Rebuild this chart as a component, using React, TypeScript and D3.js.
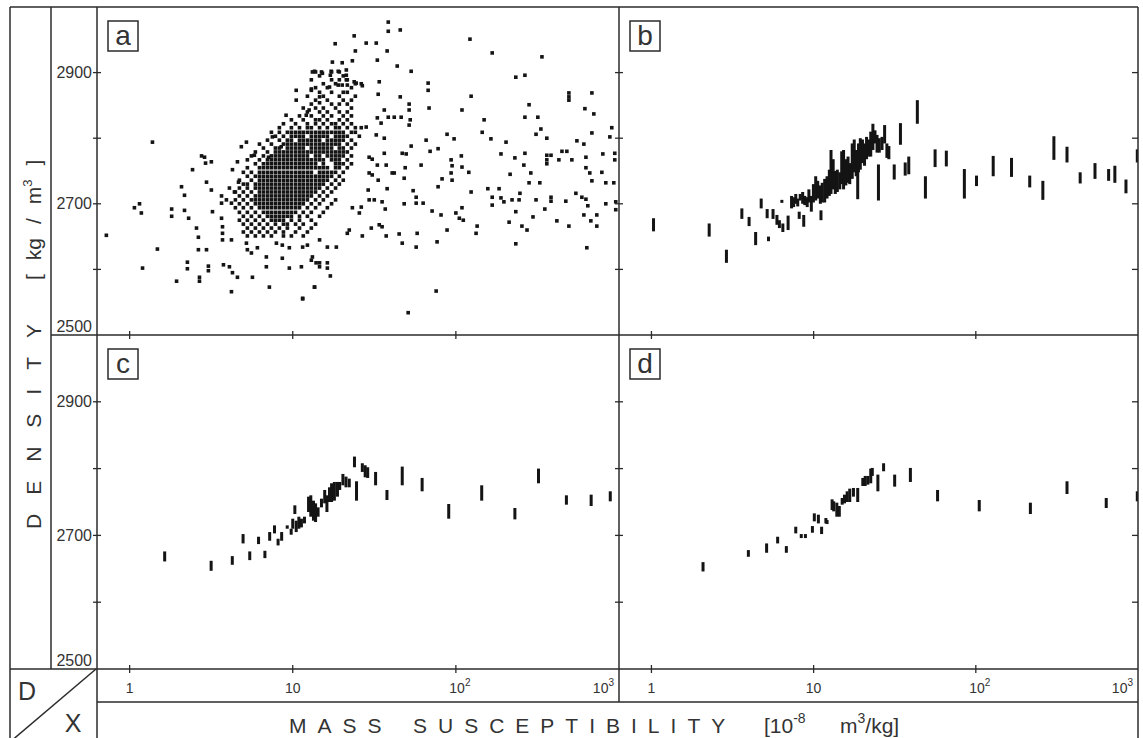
import React from 'react';
import * as d3 from 'd3';

// ---------- DATA ----------
const densityTicks = [2600, 2700, 2800, 2900];
const densityLabels = [2900, 2700, 2500];
const suscTicks = [1, 10, 100];
const suscLabelValues = [1, 10, 100, 1000];
const suscLabelBase = ['1', '10', '10', '10'];
const suscLabelSup = ['', '', '2', '3'];
const panelLetters = ['a', 'b', 'c', 'd'];

// panel a: scattered samples [susceptibility, density]
const panelASparse: number[][] = [
  [0.72,2652],[1.38,2794],[1.07,2694],[1.15,2700],[1.18,2686],[1.2,2602],[1.48,2631],[1.81,2692],[1.81,2681],[1.94,2582],
  [2.17,2713],[2.17,2690],[2.3,2678],[2.43,2752],[2.26,2611],[2.26,2601],[2.57,2663],[2.64,2649],[2.64,2630],[2.68,2588],
  [2.68,2582],[2.88,2771],[3.17,2764],[2.96,2630],[3.04,2605],[3.04,2598],[3.22,2688],[3.66,2701],[3.71,2655],[3.71,2645],
  [3.76,2607],[4.09,2604],[4.21,2566],[4.27,2595],[4.58,2588],[4.58,2764],[4.84,2787],[5.2,2794],[7.5,2802],[5.82,2774],
  [7.1,2771],[8.5,2787],[9.1,2835],[10.5,2858],[10.5,2873],[13.0,2873],[13.2,2901],[15.0,2901],[12.1,2835],[12.6,2843],
  [14.6,2863],[14.6,2854],[4.27,2752],[4.65,2733],[2.08,2726],[2.96,2733],[3.17,2721],[3.66,2712],[2.76,2773],[2.92,2762],
  [4.09,2724],[4.39,2718],[3.92,2706],[4.21,2701],[3.66,2678],[3.71,2665],[4.21,2645],[5.2,2640],[5.27,2630],[5.58,2625],
  [6.07,2633],[6.89,2619],[6.89,2604],[5.66,2588],[7.19,2573],[8.63,2617],[9.53,2602],[11.5,2556],[13.0,2614],[13.9,2610],
  [14.6,2604],[16.3,2602],[13.6,2573],[7.94,2640],[8.63,2637],[9.53,2633],[11.3,2604],
  [38.5,2977],[38.5,2963],[45.6,2965],[23.8,2956],[18.2,2944],[28.2,2945],[32.5,2945],[24.2,2933],[37.9,2933],[17.5,2916],
  [20.1,2915],[23.2,2918],[33.0,2919],[43.7,2910],[53.2,2902],[122,2951],[167,2930],[337,2924],[233,2893],[265,2896],
  [67.6,2884],[67.6,2873],[124,2864],[45.6,2863],[493,2869],[493,2863],[493,2858],[682,2869],[281,2851],[68.5,2846],
  [109,2843],[618,2845],[701,2837],[51.7,2852],[51.7,2843],[265,2832],[318,2832],[149,2828],[145,2809],[903,2816],
  [879,2802],[682,2808],[332,2814],[310,2806],[88.3,2806],[97.5,2799],[65.7,2797],[77.8,2784],[164,2799],[203,2794],
  [552,2796],[609,2791],[361,2800],[53.2,2788],[69.5,2780],[189,2776],[230,2770],[265,2777],[108,2773],[361,2774],
  [361,2767],[361,2761],[383,2774],[447,2780],[479,2780],[514,2767],[627,2771],[796,2776],[942,2777],[942,2767],
  [93.5,2767],[94.8,2758],[61.2,2759],[48.9,2755],[261,2759],[428,2767],[288,2747],[215,2745],[93.5,2747],[109,2756],
  [120,2748],[627,2755],[662,2747],[682,2735],[785,2748],[40.7,2747],[82.3,2738],[94.8,2736],[48.2,2739],[281,2732],
  [327,2732],[830,2732],[929,2732],[77.8,2726],[157,2723],[184,2723],[124,2718],[54.7,2720],[57.1,2710],[167,2710],
  [189,2709],[197,2703],[221,2706],[244,2706],[247,2716],[383,2710],[383,2704],[472,2704],[544,2716],[592,2710],
  [627,2707],[644,2697],[830,2700],[955,2691],[955,2703],[310,2706],[167,2698],[57.1,2701],[63,2701],[48.2,2700],
  [71.5,2689],[81.1,2683],[100,2686],[105,2678],[111,2675],[109,2694],[233,2688],[351,2692],[297,2680],[416,2674],
  [493,2666],[609,2683],[672,2674],[731,2683],[731,2666],[212,2672],[254,2666],[273,2660],[135,2666],[133,2655],
  [88.3,2660],[57.9,2655],[76.7,2642],[46.9,2640],[57.1,2634],[233,2639],[635,2633],[75.7,2567],[51,2534],
  [13.6,2902],[15.2,2899],[17.2,2902],[19.0,2902],[21.3,2904],[21.3,2896],[24.5,2884],[26.3,2883],[26.7,2880],[33.9,2886],
  [33.4,2867],[36.4,2843],[38.5,2832],[41.9,2832],[46.2,2832],[52.5,2828],[33,2831],[34.8,2823],[51.7,2820],[26.3,2816],
  [28.2,2817],[32.5,2805],[36.4,2800],[46.9,2777],[49.6,2776],[36.4,2777],[29.4,2771],[30.7,2768],[33,2759],[37.4,2759],
  [41.9,2747],[29.4,2747],[30.7,2744],[33.4,2736],[37.9,2723],[29.4,2706],[31.6,2706],[35.3,2703],[36.9,2692],[29,2721],
  [26.3,2695],[23.2,2694],[25.6,2686],[33.9,2668],[35.3,2665],[30.3,2663],[22.2,2660],[21.6,2655],[26.7,2651],[37.4,2651],
  [44.9,2654],[18.5,2634],[16.3,2634],[14.6,2645],[12.3,2637],[11.5,2634],[13.2,2619],[14.6,2610],[16.3,2610],[17,2590],
  [13.6,2573],[11.5,2555],[13.0,2875],[16.8,2878],[17.0,2896],[17.3,2889],[19.0,2881],[20.1,2881],[21.3,2889],[21.6,2881],
  [23.8,2886],
];

// panel a: dense core, one row per density level: [density, susceptibilities...]
const panelACoreRows: number[][] = [
  [2901, 13.8,17.3,19.3],
  [2895, 14.6,20.4],
  [2889, 13.0,19.3,21.6],
  [2883, 15.4,18.3,24.2],
  [2877, 13.8,16.3,22.9],
  [2870, 14.6,17.3,20.4,21.6],
  [2864, 12.3,15.4,19.3,24.2],
  [2858, 13.8,16.3,20.4,22.9],
  [2852, 13.0,17.3,19.3,21.6],
  [2846, 11.6,13.8,15.4,18.3,22.9],
  [2840, 12.3,14.6,16.3,19.3,21.6],
  [2834, 11.0,13.0,15.4,17.3,20.4,22.9],
  [2828, 9.81,11.6,13.8,14.6,16.3,19.3,21.6],
  [2822, 8.77,10.4,12.3,13.8,15.4,17.3,18.3,20.4,22.9],
  [2816, 8.28,9.81,11.0,12.3,13.0,14.6,16.3,18.3,19.3,21.6,24.2],
  [2809, 7.4,8.28,9.27,9.81,10.4,11.0,11.6,12.3,13.0,13.8,14.6,15.4,16.3,17.3,18.3,19.3,20.4,22.9,24.2],
  [2803, 7.83,8.77,9.81,10.4,11.0,11.6,13.0,13.8,14.6,15.4,16.3,18.3,19.3,20.4,21.6,25.6],
  [2797, 7.0,8.28,9.27,9.81,11.0,11.6,12.3,13.0,13.8,14.6,16.3,17.3,18.3,19.3,20.4,22.9],
  [2791, 6.25,7.4,8.77,9.27,9.81,10.4,11.0,11.6,12.3,13.0,13.8,14.6,15.4,16.3,17.3,18.3,19.3,21.6,24.2],
  [2785, 6.61,7.83,8.28,9.27,9.81,10.4,11.0,11.6,13.0,13.8,14.6,15.4,16.3,17.3,19.3,20.4,22.9],
  [2779, 5.9,7.0,7.83,8.28,8.77,9.27,9.81,10.4,11.0,11.6,12.3,13.0,13.8,14.6,15.4,16.3,17.3,18.3,19.3,20.4,21.6],
  [2773, 5.58,6.61,7.4,7.83,8.28,8.77,9.27,9.81,10.4,11.0,11.6,12.3,13.8,14.6,16.3,17.3,18.3,19.3,20.4,22.9],
  [2767, 5.27,6.25,7.0,7.4,7.83,8.28,8.77,9.27,9.81,10.4,11.0,11.6,12.3,13.0,13.8,14.6,15.4,17.3,18.3,19.3,21.6],
  [2761, 5.9,6.61,7.0,7.4,7.83,8.28,8.77,9.27,9.81,10.4,11.0,11.6,12.3,13.0,13.8,15.4,18.3,19.3,20.4,22.9],
  [2755, 5.27,6.25,6.61,7.0,7.4,7.83,8.28,8.77,9.27,9.81,10.4,11.0,11.6,12.3,13.0,13.8,14.6,15.4,16.3,18.3,19.3,21.6],
  [2748, 4.98,5.58,6.25,6.61,7.0,7.4,7.83,8.28,8.77,9.27,9.81,10.4,11.0,11.6,12.3,13.0,14.6,15.4,16.3,17.3,18.3,20.4],
  [2742, 5.27,5.9,6.25,6.61,7.0,7.4,7.83,8.28,8.77,9.27,9.81,10.4,11.0,11.6,12.3,13.0,13.8,14.6,15.4,16.3,17.3,19.3],
  [2736, 4.71,5.58,6.25,6.61,7.0,7.4,7.83,8.28,8.77,9.27,9.81,10.4,11.0,11.6,12.3,13.0,13.8,14.6,15.4,16.3,18.3,20.4],
  [2730, 4.98,5.27,5.9,6.25,6.61,7.0,7.4,7.83,8.28,8.77,9.27,9.81,10.4,11.0,11.6,12.3,13.0,13.8,14.6,15.4,17.3,19.3],
  [2724, 4.71,5.27,5.9,6.25,6.61,7.0,7.4,7.83,8.28,8.77,9.27,9.81,10.4,11.0,11.6,12.3,13.0,13.8,14.6,16.3,18.3],
  [2718, 4.45,4.98,5.58,6.25,6.61,7.0,7.4,7.83,8.28,8.77,9.27,9.81,10.4,11.0,11.6,12.3,13.0,13.8,15.4,17.3],
  [2712, 4.71,5.27,5.9,6.25,6.61,7.0,7.4,7.83,8.28,8.77,9.27,9.81,10.4,11.0,11.6,12.3,13.0,14.6,16.3],
  [2706, 4.45,4.98,5.58,5.9,6.25,6.61,7.0,7.4,7.83,8.28,8.77,9.27,9.81,10.4,11.0,11.6,12.3,13.8,15.4,18.3],
  [2700, 4.71,5.27,5.9,6.25,6.61,7.0,7.4,7.83,8.28,8.77,9.27,9.81,10.4,11.0,11.6,13.0,14.6,17.3],
  [2694, 4.45,4.98,5.58,6.25,6.61,7.0,7.4,7.83,8.28,8.77,9.27,9.81,10.4,11.0,12.3,13.8,16.3],
  [2687, 4.71,5.27,5.9,6.61,7.0,7.4,7.83,8.28,8.77,9.27,9.81,10.4,11.6,13.0,15.4],
  [2681, 4.98,5.58,6.25,7.0,7.4,7.83,8.28,8.77,9.27,9.81,11.0,12.3,14.6],
  [2675, 4.71,5.27,5.9,6.61,7.4,7.83,8.28,8.77,9.81,11.0,13.0],
  [2669, 4.98,5.58,6.25,7.0,7.83,8.77,9.27,10.4,11.6,13.8],
  [2663, 5.27,5.9,6.61,7.4,8.28,9.27,11.0,13.0],
  [2657, 4.98,5.58,6.25,7.0,7.83,8.77,10.4,12.3],
  [2651, 5.27,5.9,6.61,7.4,8.77,9.81,11.6],
];

// panels b, c, d: density ranges [susceptibility, lowest density, highest density]
const panelBRanges: number[][] = [
  [1.03,2658,2678],[2.27,2650,2670],[2.9,2610,2630],[3.61,2677,2693],[4.0,2666,2680],[4.39,2637,2657],[4.75,2693,2708],
  [5.17,2678,2692],[5.27,2643,2650],[5.62,2677,2692],[5.94,2668,2683],[6.15,2663,2675],[6.46,2657,2670],[6.37,2703,2706],
  [6.96,2660,2682],[8.15,2677,2688],[8.69,2665,2683],[11.1,2675,2690],[18.7,2707,2752],[25.1,2705,2760],[31.4,2737,2760],
  [34.3,2790,2823],[36.7,2743,2763],[38.6,2745,2772],[43.6,2822,2858],[48.9,2708,2742],[56.1,2756,2783],[65.8,2757,2781],
  [85,2708,2753],[101,2727,2743],[128,2742,2773],[166,2741,2770],[215,2725,2743],[259,2706,2735],[303,2767,2803],
  [365,2763,2787],[440,2731,2748],[543,2738,2762],[659,2735,2753],[720,2732,2758],[843,2716,2737],[990,2763,2783],
  [7.31,2693,2712],[7.53,2695,2710],[7.76,2700,2715],[7.98,2696,2708],[8.27,2705,2715],[8.56,2700,2718],[8.82,2698,2712],
  [9.13,2695,2710],[9.35,2702,2722],[9.68,2688,2712],[9.97,2702,2730],[10.3,2705,2742],[10.6,2708,2735],[11.0,2700,2728],
  [11.3,2702,2732],[11.7,2702,2738],[12.1,2708,2742],[12.5,2712,2752],[12.8,2715,2782],[13.2,2722,2768],[13.6,2715,2750],
  [14.0,2718,2752],[14.5,2722,2748],[14.9,2730,2780],[15.3,2722,2782],[15.8,2728,2768],[16.3,2732,2772],[16.7,2730,2762],
  [17.3,2738,2792],[17.8,2748,2798],[18.3,2742,2782],[18.9,2748,2792],[19.4,2752,2800],[20.0,2762,2798],[20.6,2758,2792],
  [21.2,2768,2802],[21.9,2772,2798],[22.5,2772,2810],[23.2,2782,2822],[23.9,2792,2812],[24.6,2778,2805],[25.4,2778,2800],
  [26.4,2782,2802],[27.4,2792,2820],[28.3,2770,2792],[29.1,2768,2788],
];

const panelCRanges: number[][] = [
  [1.64,2661,2676],[3.16,2647,2662],[4.26,2656,2669],[4.96,2688,2702],[5.45,2663,2676],[6.17,2687,2698],[6.75,2666,2677],
  [7.22,2692,2705],[7.73,2703,2715],[8.13,2685,2695],[8.55,2692,2705],[9.25,2710,2715],[9.78,2701,2710],[10.3,2732,2745],
  [23.9,2802,2818],[24.6,2752,2781],[26.7,2795,2808],[27.8,2787,2805],[28.8,2786,2802],[32.2,2775,2795],[37.8,2753,2768],
  [46.9,2775,2803],[62.1,2766,2786],[90.4,2725,2747],[144,2752,2775],[230,2724,2741],[321,2778,2800],[476,2746,2760],
  [675,2744,2761],[884,2751,2766],
  [10.0,2710,2725],[10.5,2705,2722],[10.9,2710,2728],[11.3,2712,2725],[11.8,2718,2728],[12.5,2735,2758],[12.9,2728,2760],
  [13.4,2722,2752],[13.8,2720,2748],[14.3,2728,2742],[15.0,2742,2755],[15.7,2748,2768],[16.2,2735,2760],[16.8,2750,2772],
  [17.3,2750,2778],[18.0,2752,2780],[18.8,2758,2780],[19.4,2768,2780],[20.3,2775,2792],[21.2,2772,2788],[22.2,2772,2785],
];

const panelDRanges: number[][] = [
  [2.08,2646,2660],[3.96,2668,2678],[5.13,2674,2688],[6.0,2688,2698],[6.79,2674,2684],[7.76,2703,2713],[8.39,2696,2702],
  [8.9,2696,2702],[9.83,2704,2714],[10.1,2721,2733],[10.7,2718,2731],[11.2,2702,2713],[11.9,2718,2726],[12.1,2717,2723],
  [24.9,2766,2791],[27.0,2796,2808],[31.6,2773,2791],[39.5,2780,2801],[58.1,2751,2768],[105,2736,2753],[217,2732,2749],
  [365,2762,2781],[637,2741,2756],[990,2751,2766],
  [13.0,2738,2754],[13.3,2736,2751],[13.9,2728,2749],[14.4,2728,2744],[15.0,2746,2756],[15.5,2748,2761],[16.1,2750,2766],
  [16.7,2750,2770],[17.6,2758,2771],[18.7,2750,2771],[20.1,2774,2786],[20.8,2774,2789],[21.6,2776,2789],[22.5,2778,2800],
  [23.0,2789,2801],
];

// ---------- LAYOUT ----------
const W = 1143, H = 738;
const COLS: [number, number][] = [[97, 619], [619, 1138]];
const ROWS: [number, number][] = [[7, 335], [335, 669]];
const LINE = '#2b2b2b';
const INK = '#141414';
const TXT = '#333';
const FONT = '"Liberation Sans", Arial, Helvetica, sans-serif';

const makeX = (c: number) => d3.scaleLog().domain([Math.pow(10, -0.2), 1000]).range(COLS[c]);
const makeY = (r: number) => d3.scaleLinear().domain([2500, 3000]).range([ROWS[r][1], ROWS[r][0]]);

function Squares({ c, r }: { c: number; r: number }) {
  const x = makeX(c), y = makeY(r);
  const core = panelACoreRows.flatMap(row => row.slice(1).map(v => [v, row[0]]));
  const pts = [...panelASparse, ...core];
  const s = 3.6;
  return (
    <g clipPath={`url(#clip-${c}-${r})`} fill={INK}>
      {pts.map((p, i) => (
        <rect key={i} x={x(p[0]) - s / 2} y={y(p[1]) - s / 2} width={s} height={s} />
      ))}
    </g>
  );
}

function Bars({ c, r, data }: { c: number; r: number; data: number[][] }) {
  const x = makeX(c), y = makeY(r);
  const w = 3;
  return (
    <g clipPath={`url(#clip-${c}-${r})`} fill={INK}>
      {data.map((p, i) => {
        const top = y(p[2]);
        const h = Math.max(3, y(p[1]) - top);
        return <rect key={i} x={x(p[0]) - w / 2} y={top} width={w} height={h} />;
      })}
    </g>
  );
}

export default function App() {
  const panels = [
    { c: 0, r: 0 }, { c: 1, r: 0 }, { c: 0, r: 1 }, { c: 1, r: 1 },
  ];
  const lines: [number, number, number, number][] = [
    [10, 7, 1138, 7],
    [10, 7, 10, 745],
    [1138, 7, 1138, 745],
    [51, 7, 51, 669],
    [97, 7, 97, 745],
    [619, 7, 619, 702],
    [51, 335, 1138, 335],
    [10, 669, 1138, 669],
    [97, 702, 1138, 702],
    [96, 669, 10, 742],
  ];
  const tickMarks: [number, number, number, number][] = [];
  [0, 1].forEach(c => {
    const x = makeX(c);
    [0, 1].forEach(r => {
      const yb = ROWS[r][1];
      suscTicks.forEach(t => tickMarks.push([x(t), yb - 4, x(t), yb + 4]));
    });
  });
  [0, 1].forEach(r => {
    const y = makeY(r);
    densityTicks.forEach(t => {
      tickMarks.push([93, y(t), 101, y(t)]);
      tickMarks.push([615, y(t), 623, y(t)]);
      tickMarks.push([1132, y(t), 1138, y(t)]);
    });
  });

  return (
    <svg width={W} height={H} viewBox={`0 0 ${W} ${H}`}
      style={{ position: 'absolute', left: 0, top: 0, background: '#fff' }}
      fontFamily={FONT}>
      <defs>
        {panels.map(p => (
          <clipPath key={`${p.c}${p.r}`} id={`clip-${p.c}-${p.r}`}>
            <rect x={COLS[p.c][0]} y={ROWS[p.r][0]} width={COLS[p.c][1] - COLS[p.c][0]} height={ROWS[p.r][1] - ROWS[p.r][0]} />
          </clipPath>
        ))}
      </defs>
      <rect x={0} y={0} width={W} height={H} fill="#fff" />

      <Squares c={0} r={0} />
      <Bars c={1} r={0} data={panelBRanges} />
      <Bars c={0} r={1} data={panelCRanges} />
      <Bars c={1} r={1} data={panelDRanges} />

      <g stroke={LINE} strokeWidth={1.5} fill="none">
        {lines.map((l, i) => <line key={i} x1={l[0]} y1={l[1]} x2={l[2]} y2={l[3]} />)}
        {tickMarks.map((l, i) => <line key={`t${i}`} x1={l[0]} y1={l[1]} x2={l[2]} y2={l[3]} strokeWidth={1.3} />)}
      </g>

      {panels.map((p, i) => {
        const bx = COLS[p.c][0] + 11, by = ROWS[p.r][0] + 14;
        return (
          <g key={`L${i}`}>
            <rect x={bx} y={by} width={30} height={30} fill="#fff" stroke={LINE} strokeWidth={1.5} />
            <text x={bx + 15} y={by + 24} textAnchor="middle" fontSize={28} fill={TXT}>{panelLetters[i]}</text>
          </g>
        );
      })}

      {[0, 1].map(r => {
        const y = makeY(r);
        return densityLabels.map(v => (
          <text key={`d${r}${v}`} x={92} y={v === 2500 ? y(v) - 3 : y(v) + 5.5} textAnchor="end" fontSize={16} fill={TXT}>{v}</text>
        ));
      })}

      {[0, 1].map(c => {
        const x = makeX(c);
        return suscLabelValues.map((v, i) => {
          const isLast = v === 1000;
          const hasSup = suscLabelSup[i] !== '';
          return (
            <text key={`s${c}${i}`} x={isLast ? x(v) - 5 : (hasSup ? x(v) + 4 : x(v))} y={693}
              textAnchor={isLast ? 'end' : 'middle'} fontSize={14} fill={TXT}>
              {suscLabelBase[i]}
              {hasSup && <tspan fontSize={10} dy={-7}>{suscLabelSup[i]}</tspan>}
            </text>
          );
        });
      })}

      <text x={27} y={700} textAnchor="middle" fontSize={25} fill={TXT}>D</text>
      <text x={73} y={732} textAnchor="middle" fontSize={25} fill={TXT}>X</text>

      <text transform="translate(41,529) rotate(-90)" fontSize={21} letterSpacing={19} fill={TXT}>DENSITY</text>
      <text transform="translate(41,280) rotate(-90)" fontSize={21} fill={TXT}>
        <tspan>[</tspan>
        <tspan dx={14}>kg</tspan>
        <tspan dx={14}>/</tspan>
        <tspan dx={14}>m</tspan>
        <tspan fontSize={13} dy={-9}>3</tspan>
        <tspan dx={14} dy={9}>]</tspan>
      </text>

      <g fontSize={21} fill={TXT}>
        <text x={289} y={733} letterSpacing={11}>MASS</text>
        <text x={413} y={733} letterSpacing={11}>SUSCEPTIBILITY</text>
        <text x={764} y={733}>
          <tspan>[10</tspan>
          <tspan fontSize={14} dy={-10}>-8</tspan>
          <tspan x={840} dy={10}>m</tspan>
          <tspan fontSize={14} dy={-10}>3</tspan>
          <tspan dy={10}>/kg]</tspan>
        </text>
      </g>
    </svg>
  );
}
